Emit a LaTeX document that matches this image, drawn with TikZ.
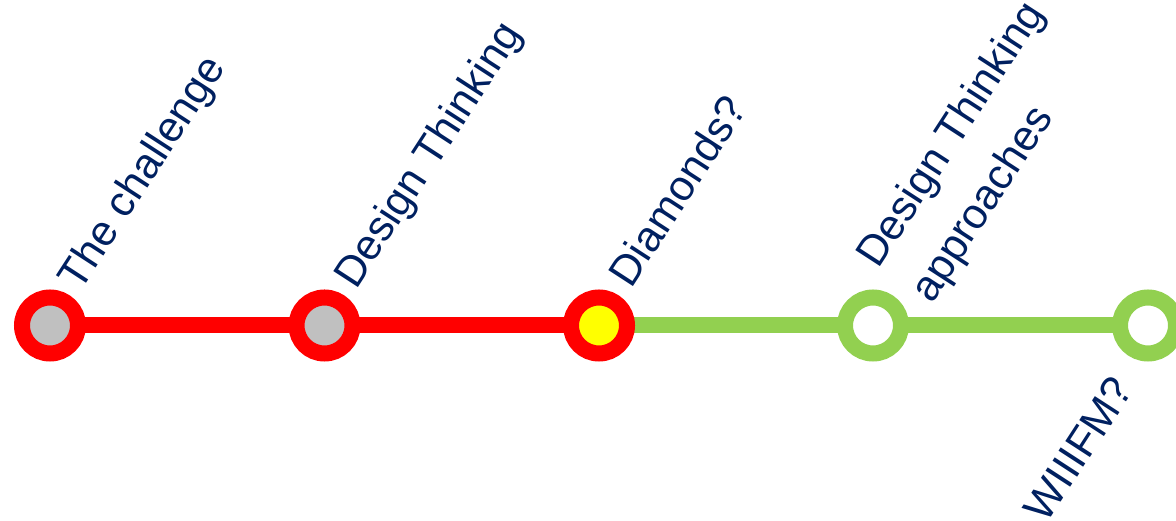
\documentclass[tikz,border=0pt]{standalone}
\usepackage{fontspec}
\setmainfont{Liberation Sans}
\usetikzlibrary{positioning, calc, backgrounds}
\definecolor{cred}{HTML}{FF0000}
\definecolor{cgreen}{HTML}{92D050}
\definecolor{cgrey}{HTML}{C0C0C0}
\definecolor{cyellow}{HTML}{FFFF00}
\definecolor{cnavy}{HTML}{002060}
\tikzset{
  station/.style={circle, draw=#1, line width=3.2mm, minimum size=11.2mm, inner sep=0pt},
  track/.style={draw=#1, line width=3.2mm},
  tag/.style={rotate=57, anchor=base west, inner sep=0pt, text=cnavy,
    font=\fontsize{24.3}{36.4}\selectfont},
}
\begin{document}
\begin{tikzpicture}
  \clip (0,0) rectangle (23.52,10.42);
  % stations along the line
  \foreach \x/\ring/\core [count=\i] in {1.0/cred/cgrey, 6.49/cred/cgrey, 11.98/cred/cyellow, 17.46/cgreen/white, 22.96/cgreen/white} {
    \node[station=\ring, fill=\core] (s\i) at (\x, 3.91) {};
  }
  \begin{scope}[on background layer]
    \draw[track=cred] (s1.center) -- (s3.center);
    \draw[track=cgreen] (s3.center) -- (s5.center);
  \end{scope}
  % slanted captions
  \node[tag] (t1) at ($(s1)+(0.6,0.66)$) {The challenge};
  \node[tag] (t2) at ($(s2)+(0.63,0.69)$) {Design Thinking};
  \node[tag] (t3) at ($(s3)+(0.64,0.72)$) {Diamonds?};
  \node[tag, align=left] (t4) at ($(s4)+(1.18,0.41)$) {Design Thinking\\approaches};
  \node[tag, anchor=base east] (t5) at ($(s5)+(-0.26,-1.27)$) {WIIIFM?};
\end{tikzpicture}
\end{document}
